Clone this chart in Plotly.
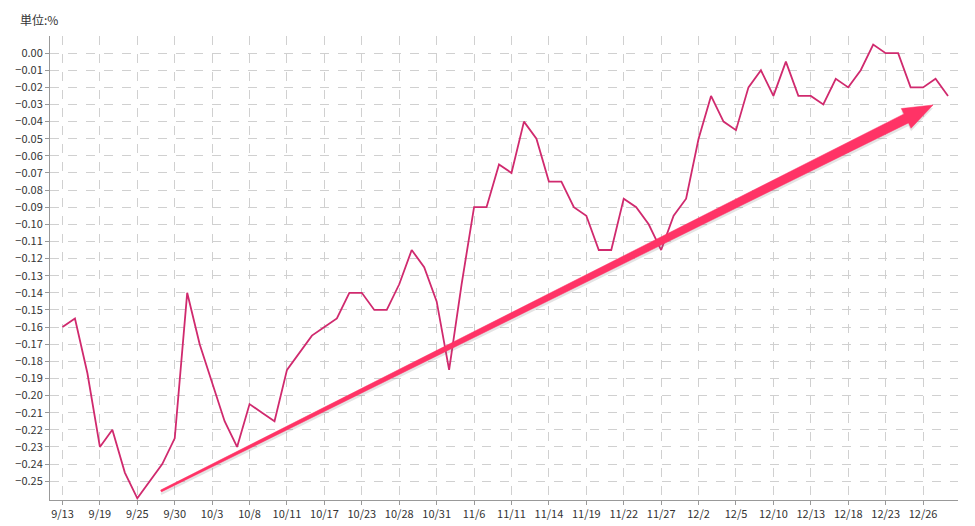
import plotly.graph_objects as go

dates = ["9/13", "9/14", "9/18", "9/19", "9/20", "9/21", "9/25", "9/26", "9/27",
         "9/30", "10/1", "10/2", "10/3", "10/4", "10/5", "10/8", "10/9", "10/10",
         "10/11", "10/15", "10/16", "10/17", "10/18", "10/22", "10/23", "10/24", "10/25",
         "10/28", "10/29", "10/30", "10/31", "11/1", "11/5", "11/6", "11/7", "11/8",
         "11/11", "11/12", "11/13", "11/14", "11/15", "11/18", "11/19", "11/20", "11/21",
         "11/22", "11/25", "11/26", "11/27", "11/28", "11/29", "12/2", "12/3", "12/4",
         "12/5", "12/6", "12/9", "12/10", "12/11", "12/12", "12/13", "12/16", "12/17",
         "12/18", "12/19", "12/20", "12/23", "12/24", "12/25", "12/26", "12/27", "12/28"]

values = [-0.16, -0.155, -0.187, -0.23, -0.22, -0.245, -0.26, -0.25, -0.24,
          -0.225, -0.14, -0.17, -0.193, -0.215, -0.23, -0.205, -0.21, -0.215,
          -0.185, -0.175, -0.165, -0.16, -0.155, -0.14, -0.14, -0.15, -0.15,
          -0.135, -0.115, -0.125, -0.145, -0.185, -0.135, -0.09, -0.09, -0.065,
          -0.07, -0.04, -0.05, -0.075, -0.075, -0.09, -0.095, -0.115, -0.115,
          -0.085, -0.09, -0.1, -0.115, -0.095, -0.085, -0.05, -0.025, -0.04,
          -0.045, -0.02, -0.01, -0.025, -0.005, -0.025, -0.025, -0.03, -0.015,
          -0.02, -0.01, 0.005, 0.0, 0.0, -0.02, -0.02, -0.015, -0.025]

tick_labels = dates[::3]
y_ticks = [round(-0.01 * i, 2) for i in range(26)]

W, H = 975, 526
L, R, T, B = 42, 25, 28, 34
pw, ph = W - L - R, H - T - B


def paper(px, py):
    return (px - L) / pw, (H - B - py) / ph


def arrow_path(off=0):
    # tapered arrow drawn in pixel space, then converted to paper coords
    x0, y0 = 153, 483 + off
    x1, y1 = 925, 97 + off
    dx, dy = x1 - x0, y1 - y0
    n = (dx * dx + dy * dy) ** 0.5
    ux, uy = dx / n, dy / n
    nx, ny = -uy, ux
    hl = 30
    bx, by = x1 - ux * hl, y1 - uy * hl
    pts = [(x0 + nx * 1, y0 + ny * 1), (bx + nx * 5, by + ny * 5),
           (bx + nx * 11, by + ny * 11), (x1, y1),
           (bx - nx * 11, by - ny * 11), (bx - nx * 5, by - ny * 5),
           (x0 - nx * 1, y0 - ny * 1)]
    pp = [paper(px, py) for px, py in pts]
    return "M " + " L ".join(f"{a:.4f},{b:.4f}" for a, b in pp) + " Z"


fig = go.Figure()
fig.add_trace(go.Scatter(x=dates, y=values, mode="lines",
                         line=dict(color="#D02A6E", width=1.8)))

fig.add_shape(type="path", xref="paper", yref="paper", path=arrow_path(3),
              fillcolor="rgba(120,120,120,0.2)", line=dict(width=0))
fig.add_shape(type="path", xref="paper", yref="paper", path=arrow_path(),
              fillcolor="#FF3366", line=dict(color="#FF3366", width=0.5))

fig.update_layout(
    width=W, height=H,
    margin=dict(l=L, r=R, t=T, b=B, autoexpand=False),
    paper_bgcolor="white", plot_bgcolor="white",
    showlegend=False,
    font=dict(family="Noto Sans CJK JP", size=11, color="#333333"),
    annotations=[dict(text="単位:%", xref="paper", yref="paper", x=-0.035, y=1.012,
                      xanchor="left", yanchor="bottom", showarrow=False,
                      font=dict(size=12, color="#333333"))],
)
fig.update_xaxes(type="category", tickmode="array", tickvals=tick_labels,
                 ticktext=tick_labels, showgrid=True, gridcolor="#D0D0D0",
                 griddash="dash", showline=True, linecolor="#999999",
                 ticks="outside", ticklen=4, tickcolor="#999999",
                 range=[-1, len(dates) - 0.2], automargin=False)
fig.update_yaxes(tickvals=y_ticks, tickformat=".2f", showgrid=True,
                 gridcolor="#D0D0D0", griddash="dash", showline=True,
                 linecolor="#999999", ticks="outside", ticklen=4,
                 tickcolor="#999999", range=[-0.261, 0.01], zeroline=False,
                 automargin=False)

fig.write_html("out.html")
